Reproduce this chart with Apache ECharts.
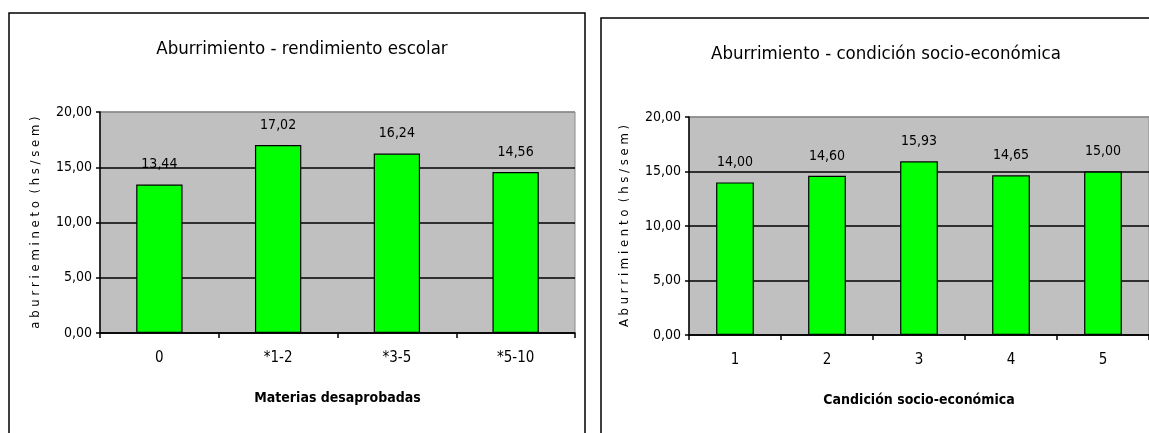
<!DOCTYPE html>
<html>
<head>
<meta charset="utf-8">
<title>Aburrimiento</title>
<script src="https://cdn.jsdelivr.net/npm/echarts@6/dist/echarts.min.js"></script>
<style>
  html, body { margin: 0; padding: 0; background: #fff; }
  #chart { width: 1149px; height: 433px; }
</style>
</head>
<body>
<div id="chart"></div>
<script>
// Left panel: boredom vs. failed subjects
const rendimientoCategorias = ['0', '*1-2', '*3-5', '*5-10'];
const rendimientoValores = [13.44, 17.02, 16.24, 14.56];

// Right panel: boredom vs. socio-economic condition
const socioCategorias = ['1', '2', '3', '4', '5'];
const socioValores = [14.00, 14.60, 15.93, 14.65, 15.00];

// Shared value-axis ticks
const yMin = 0;
const yMax = 20;
const yInterval = 5;

const FONT = '"DejaVu Sans Condensed", "Liberation Sans Narrow", "Liberation Sans", sans-serif';
const fmt = v => Number(v).toFixed(2).replace('.', ',');

function valueAxis(gridIndex, name) {
  return {
    type: 'value',
    gridIndex: gridIndex,
    min: yMin,
    max: yMax,
    interval: yInterval,
    name: name,
    nameLocation: 'middle',
    nameRotate: 90,
    nameGap: 58,
    nameTextStyle: { fontFamily: FONT, fontSize: 13, color: '#000' },
    axisLine: { show: true, lineStyle: { color: '#000', width: 1.5 } },
    axisTick: { show: true, length: 4, lineStyle: { color: '#000', width: 1.5 } },
    axisLabel: { fontFamily: FONT, fontSize: 14, color: '#000', margin: 8, formatter: fmt },
    splitLine: { show: true, lineStyle: { color: ['#000', '#000', '#000', '#000', '#8a8a8a'], width: 1.5 } }
  };
}

function categoryAxis(gridIndex, data, name) {
  return {
    type: 'category',
    gridIndex: gridIndex,
    data: data,
    name: name,
    nameLocation: 'middle',
    nameGap: 58,
    nameTextStyle: { fontFamily: FONT, fontSize: 14, fontWeight: 'bold', color: '#000' },
    axisLine: { show: true, lineStyle: { color: '#000', width: 1.5 } },
    axisTick: { show: true, alignWithLabel: false, length: 5, lineStyle: { color: '#000', width: 1.5 } },
    axisLabel: { fontFamily: FONT, fontSize: 15, color: '#000', margin: 18 }
  };
}

function barSeries(index, data, width) {
  return {
    type: 'bar',
    xAxisIndex: index,
    yAxisIndex: index,
    data: data,
    barWidth: width,
    itemStyle: { color: '#00ff00', borderColor: '#000', borderWidth: 1.2 },
    label: {
      show: true,
      position: 'top',
      distance: 13,
      fontFamily: FONT,
      fontSize: 14,
      color: '#000',
      formatter: p => fmt(p.value)
    }
  };
}

const chart = echarts.init(document.getElementById('chart'), null, { renderer: 'canvas' });

chart.setOption({
  animation: false,
  backgroundColor: '#fff',
  title: [
    {
      text: 'Aburrimiento - rendimiento escolar',
      left: 297, top: 35, textAlign: 'center',
      textStyle: { fontFamily: FONT, fontSize: 18.5, fontWeight: 'normal', color: '#000' }
    },
    {
      text: 'Aburrimiento - condición socio-económica',
      left: 881, top: 40, textAlign: 'center',
      textStyle: { fontFamily: FONT, fontSize: 18.5, fontWeight: 'normal', color: '#000' }
    }
  ],
  graphic: [
    { type: 'rect', shape: { x: 9, y: 13, width: 576, height: 440 },
      style: { fill: 'none', stroke: '#000', lineWidth: 1.5 }, silent: true, z: -1 },
    { type: 'rect', shape: { x: 601, y: 18, width: 570, height: 440 },
      style: { fill: 'none', stroke: '#000', lineWidth: 1.5 }, silent: true, z: -1 }
  ],
  grid: [
    { left: 100, top: 112, width: 475, height: 221, show: true,
      backgroundColor: '#c0c0c0', borderColor: '#8a8a8a', borderWidth: 1 },
    { left: 689, top: 117, width: 465, height: 218, show: true,
      backgroundColor: '#c0c0c0', borderColor: '#8a8a8a', borderWidth: 1 }
  ],
  xAxis: [
    categoryAxis(0, rendimientoCategorias, 'Materias desaprobadas'),
    categoryAxis(1, socioCategorias, 'Candición socio-económica')
  ],
  yAxis: [
    valueAxis(0, 'a b u r r i e m i n e t o  ( h s / s e m )'),
    valueAxis(1, 'A b u r r i m i e n t o  ( h s / s e m )')
  ],
  series: [
    barSeries(0, rendimientoValores, '39%'),
    barSeries(1, socioValores, '41%')
  ]
});
</script>
</body>
</html>
